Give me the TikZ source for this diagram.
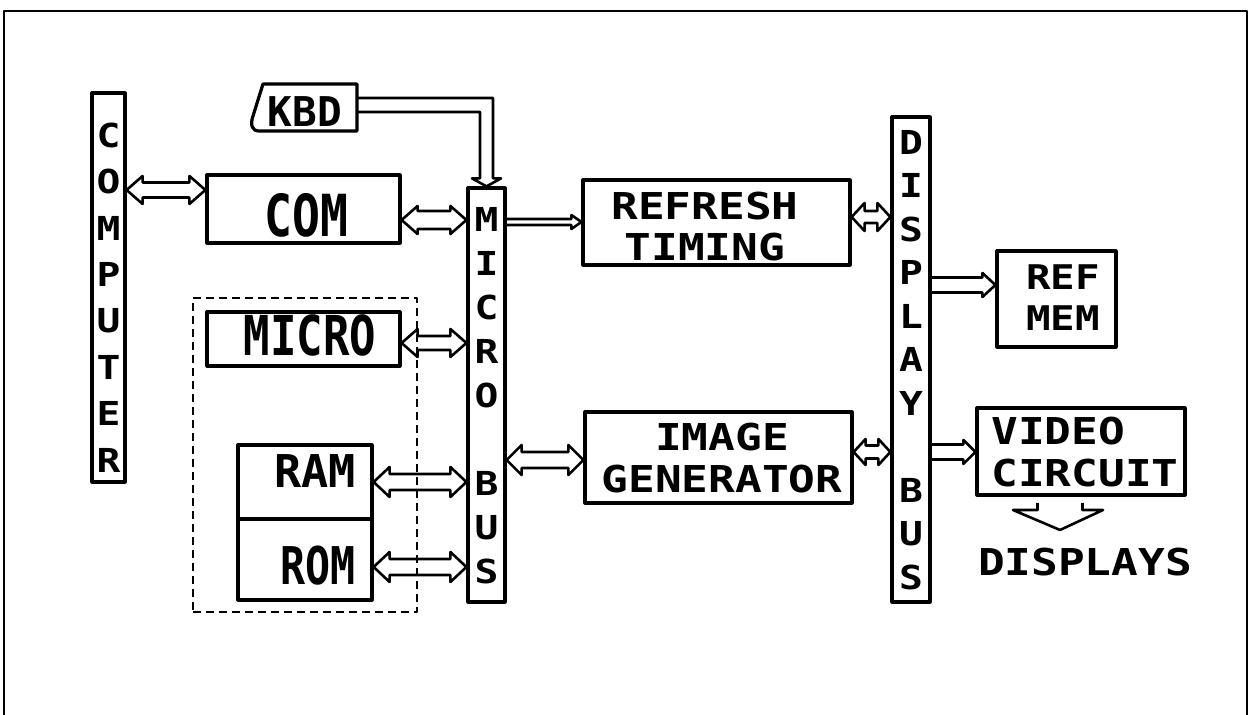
\documentclass[tikz,border=0pt]{standalone}
\usepackage{fontspec}
\newfontfamily\plot[FakeStretch=1.2]{DejaVu Sans Mono Bold}
\newfontfamily\plotn[FakeStretch=1.0]{DejaVu Sans Mono Bold}
\newfontfamily\plott[FakeStretch=0.8]{DejaVu Sans Mono Bold}
\usetikzlibrary{calc}
\newcommand\pfs[2]{\fontsize{#1}{#2}\selectfont}
\begin{document}
\begin{tikzpicture}[x=0.5pt,y=-0.5pt, line join=round,
  box/.style={draw, line width=1.6pt, inner sep=0pt, anchor=center},
  txt/.style={inner sep=0pt, align=center},
  ah/.code args={#1/#2/#3}{\def\arS{#1}\def\arH{#2}\def\arL{#3}},
  ah=3.5pt/7pt/8pt,
  bidir/.style={line width=1.3pt, to path={let \p1=(\tikztostart), \p2=(\tikztotarget) in
    (\x1,\y1) -- (\x1+\arL,\y1+\arH) -- (\x1+\arL,\y1+\arS) -- (\x2-\arL,\y2+\arS)
    -- (\x2-\arL,\y2+\arH) -- (\x2,\y2) -- (\x2-\arL,\y2-\arH) -- (\x2-\arL,\y2-\arS)
    -- (\x1+\arL,\y1-\arS) -- (\x1+\arL,\y1-\arH) -- cycle}},
  uni/.style={line width=1.3pt, to path={let \p1=(\tikztostart), \p2=(\tikztotarget) in
    (\x1,\y1+\arS) -- (\x2-\arL,\y2+\arS) -- (\x2-\arL,\y2+\arH) -- (\x2,\y2)
    -- (\x2-\arL,\y2-\arH) -- (\x2-\arL,\y2-\arS) -- (\x1,\y1-\arS)}},
  downarr/.style={line width=1.3pt, to path={let \p1=(\tikztostart), \p2=(\tikztotarget) in
    (\x1-11.25pt,\y1) -- (\x1-11.25pt,\y2+10pt) -- (\x1-23.5pt,\y2+10pt) -- (\x2,\y2)
    -- (\x1+21.5pt,\y2+10pt) -- (\x1+11.25pt,\y2+10pt) -- (\x1+11.25pt,\y1)}}
]
\useasboundingbox (0,0) rectangle (1249,715);
% frame
\draw[line width=1.4pt] (4,715) -- (4,11) -- (1247,11) -- (1247,715);

% COMPUTER
\node[box, minimum width=16.5pt, minimum height=194.5pt] (comp) at (108.5,287.5) {};
\node[txt, font=\plot\pfs{16.5}{23.2}] (tcomp) at (108.5,297.5) {C\\O\\M\\P\\U\\T\\E\\R};

% KBD
\node[inner sep=0pt, minimum width=53.5pt, minimum height=24pt] (kbd) at (303.5,108) {};
\draw[line width=1.6pt] (263,84) -- (357,84) -- (357,131) -- (259,131)
  .. controls (252,131) and (250,125) .. (253,116) -- cycle;
\node[txt, font=\plotn\pfs{20.5}{20.5}] (tkbd) at (305,112) {KBD};

% MICRO BUS
\node[box, minimum width=18.5pt, minimum height=207pt] (mbus) at (486.5,395) {};
\node[txt, font=\plot\pfs{16.5}{22}] (tmbus) at (486.5,396) {M\\I\\C\\R\\O\\[22pt]B\\U\\S};

% COM
\node[box, minimum width=96.5pt, minimum height=34pt] (com) at (303.5,209) {};
\node[txt, font=\plott\pfs{29}{29}] (tcom) at (306.5,215) {COM};

% REFRESH TIMING
\node[box, minimum width=133.5pt, minimum height=42.5pt] (refresh) at (716.5,222.5) {};
\node[txt, font=\plot\pfs{18.5}{20.5}] (trefresh) at (705,227) {REFRESH\\TIMING};

% DISPLAY BUS
\node[box, minimum width=19pt, minimum height=242.5pt] (dbus) at (911,359.5) {};
\node[txt, font=\plot\pfs{16.5}{21.75}] (tdbus) at (911,360) {D\\I\\S\\P\\L\\A\\Y\\[21.75pt]B\\U\\S};

% REF MEM
\node[box, minimum width=59.5pt, minimum height=48pt] (refmem) at (1056.5,299) {};
\node[txt, font=\plot\pfs{17}{20.5}] (trefmem) at (1063,298) {REF\\MEM};

% dashed group
\node[draw, dash pattern=on 4pt off 2.5pt, line width=1.4pt, inner sep=0pt,
  minimum width=112pt, minimum height=157pt] (grp) at (305,455) {};

% MICRO
\node[box, minimum width=96.5pt, minimum height=27pt] (micro) at (303.5,339) {};
\node[txt, font=\plott\pfs{27.5}{27.5}] (tmicro) at (310,335) {MICRO};

% RAM / ROM
\node[box, minimum width=67pt, minimum height=37pt] (ram) at (305,482) {};
\node[txt, font=\plotn\pfs{22.6}{22.6}] (tram) at (315,471) {RAM};
\node[box, minimum width=67pt, minimum height=40.5pt] (rom) at (305,559.5) {};
\node[txt, font=\plott\pfs{26}{26}] (trom) at (318,566) {ROM};

% IMAGE GENERATOR
\node[box, minimum width=133.5pt, minimum height=45.5pt] (image) at (718.5,457.5) {};
\node[txt, font=\plot\pfs{18.5}{20.75}] (timage) at (722,458) {IMAGE\\GENERATOR};

% VIDEO CIRCUIT
\node[box, minimum width=104pt, minimum height=43.5pt] (video) at (1081,451.5) {};
\node[txt, align=left, font=\plot\pfs{18.5}{21}] (tvideo) at (1085,452) {VIDEO\\CIRCUIT};

% DISPLAYS
\node[txt, font=\plot\pfs{18.5}{18.5}] (displays) at (1085,562) {DISPLAYS};
\coordinate (dtop) at (1060,503);
\coordinate (dtip) at (1060,530);
\draw[downarr] (dtop) to (dtip);

% KBD -> MICRO BUS
\draw[line width=1.3pt] ($(kbd.east)+(0,-10)$) -| ($(mbus.north)+(6.5,-8)$) -- ++(8,0)
  -- (mbus.north) -- ++(-14.5,-8) -- ++(8,0) |- ($(kbd.east)+(0,4)$);

% connectors
\draw[bidir, ah=3.75pt/7pt/8pt] (comp.east |- 0,190) to (com.west |- 0,190);
\draw[bidir, ah=4.5pt/7pt/8pt] (com.east |- 0,220) to (mbus.west |- 0,220);
\draw[uni, ah=1.5pt/3.5pt/5pt] (mbus.east |- 0,222) to (refresh.west |- 0,222);
\draw[bidir, ah=3pt/7pt/6.5pt] (refresh.east |- 0,217) to (dbus.west |- 0,217);
\draw[uni, ah=3.75pt/6pt/6.5pt] (dbus.east |- 0,285) to (refmem.west |- 0,285);
\draw[bidir, ah=3.5pt/7pt/8pt] (micro.east |- 0,343) to (mbus.west |- 0,343);
\draw[bidir, ah=4pt/7.5pt/8pt] (ram.east |- 0,482) to (mbus.west |- 0,482);
\draw[bidir, ah=4pt/7.5pt/8pt] (rom.east |- 0,567) to (mbus.west |- 0,567);
\draw[bidir, ah=4pt/7.5pt/7.5pt] (mbus.east |- 0,460) to (image.west |- 0,460);
\draw[bidir, ah=3.25pt/6.5pt/6pt] (image.east |- 0,452) to (dbus.west |- 0,452);
\draw[uni, ah=3.75pt/6pt/6pt] (dbus.east |- 0,452) to (video.west |- 0,452);
\end{tikzpicture}
\end{document}
